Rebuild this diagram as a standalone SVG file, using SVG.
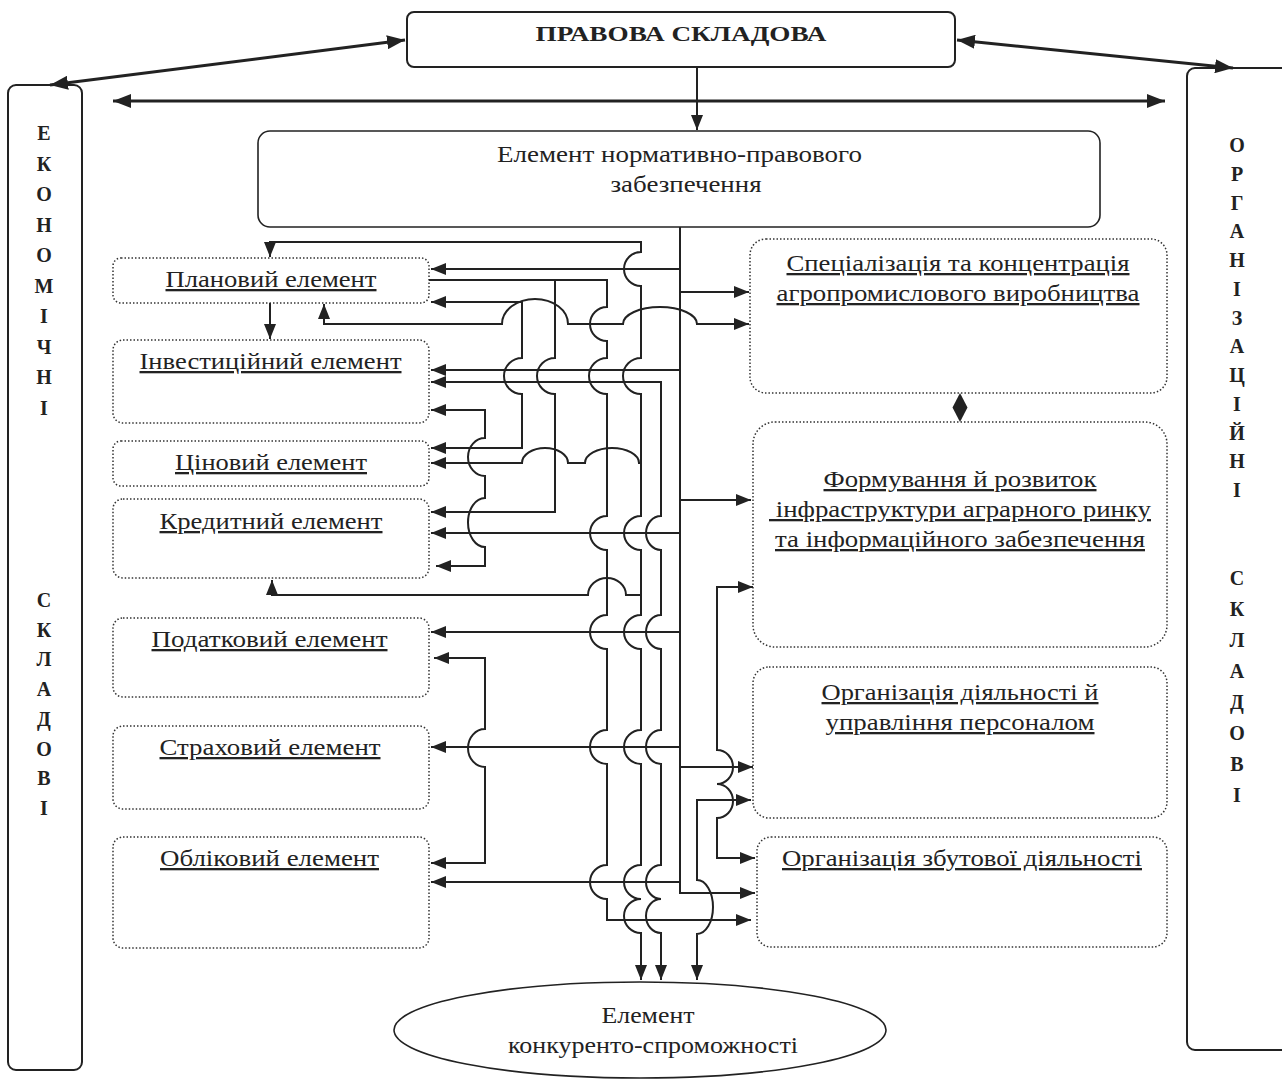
<svg xmlns="http://www.w3.org/2000/svg" width="1282" height="1080" viewBox="0 0 1282 1080">
<style>
.bg{fill:#fff}
.solid{fill:#fff;stroke:#222;stroke-width:2}
.dot{fill:#fff;stroke:#333;stroke-width:1.5;stroke-dasharray:1.5 2}
.t{font-family:"Liberation Serif","Times New Roman",serif;font-size:23px;fill:#222;text-anchor:middle}
.u{text-decoration:underline}
.b{font-family:"Liberation Serif","Times New Roman",serif;font-size:20px;font-weight:bold;fill:#222;text-anchor:middle}
.h{font-family:"Liberation Serif","Times New Roman",serif;font-size:22px;font-weight:bold;fill:#222;text-anchor:middle}
.c{fill:none;stroke:#222;stroke-width:2}
.ct{fill:none;stroke:#222;stroke-width:3}
.e{marker-end:url(#ah)}
.s{marker-start:url(#ah)}
.E{marker-end:url(#ahb)}
.S{marker-start:url(#ahb)}
</style>
<defs>
<marker id="ah" viewBox="0 0 15 12" refX="15" refY="6" markerWidth="15" markerHeight="12" markerUnits="userSpaceOnUse" orient="auto-start-reverse"><path d="M0 0 L15 6 L0 12 z" fill="#222"/></marker>
<marker id="ahb" viewBox="0 0 18 14" refX="18" refY="7" markerWidth="18" markerHeight="14" markerUnits="userSpaceOnUse" orient="auto-start-reverse"><path d="M0 0 L18 7 L0 14 z" fill="#222"/></marker>
</defs>
<rect class="bg" x="0" y="0" width="1282" height="1080"/>

<g id="pravova">
<rect class="solid" x="407" y="12" width="548" height="55" rx="7"/>
<text class="h" x="681" y="41" textLength="291" lengthAdjust="spacingAndGlyphs">ПРАВОВА СКЛАДОВА</text>
</g>

<g id="ekonomichni">
<rect class="solid" x="8" y="85" width="74" height="985" rx="8"/>
<text class="b" x="44" y="140">Е</text>
<text class="b" x="44" y="170.5">К</text>
<text class="b" x="44" y="201">О</text>
<text class="b" x="44" y="231.5">Н</text>
<text class="b" x="44" y="262">О</text>
<text class="b" x="44" y="292.5">М</text>
<text class="b" x="44" y="323">І</text>
<text class="b" x="44" y="353.5">Ч</text>
<text class="b" x="44" y="384">Н</text>
<text class="b" x="44" y="414.5">І</text>
<text class="b" x="44" y="607">С</text>
<text class="b" x="44" y="636.7">К</text>
<text class="b" x="44" y="666.4">Л</text>
<text class="b" x="44" y="696.1">А</text>
<text class="b" x="44" y="725.8">Д</text>
<text class="b" x="44" y="755.5">О</text>
<text class="b" x="44" y="785.2">В</text>
<text class="b" x="44" y="815">І</text>
</g>

<g id="orhanizatsiini">
<rect class="solid" x="1187" y="68" width="110" height="982" rx="8"/>
<text class="b" x="1237" y="152">О</text>
<text class="b" x="1237" y="180.75">Р</text>
<text class="b" x="1237" y="209.5">Г</text>
<text class="b" x="1237" y="238.25">А</text>
<text class="b" x="1237" y="267">Н</text>
<text class="b" x="1237" y="295.75">І</text>
<text class="b" x="1237" y="324.5">З</text>
<text class="b" x="1237" y="353.25">А</text>
<text class="b" x="1237" y="382">Ц</text>
<text class="b" x="1237" y="410.75">І</text>
<text class="b" x="1237" y="439.5">Й</text>
<text class="b" x="1237" y="468.25">Н</text>
<text class="b" x="1237" y="497">І</text>
<text class="b" x="1237" y="585">С</text>
<text class="b" x="1237" y="616">К</text>
<text class="b" x="1237" y="647">Л</text>
<text class="b" x="1237" y="678">А</text>
<text class="b" x="1237" y="709">Д</text>
<text class="b" x="1237" y="740">О</text>
<text class="b" x="1237" y="771">В</text>
<text class="b" x="1237" y="802">І</text>
</g>

<g id="normatyvno">
<rect class="solid" x="258" y="131" width="842" height="96" rx="12" style="stroke-width:1.6"/>
<text class="t" x="679.5" y="162" textLength="365" lengthAdjust="spacingAndGlyphs">Елемент нормативно-правового</text>
<text class="t" x="686" y="192" textLength="151" lengthAdjust="spacingAndGlyphs">забезпечення</text>
</g>

<g id="planovyi">
<rect class="dot" x="113" y="258" width="316" height="45" rx="8"/>
<text class="t u" x="271" y="287" textLength="211" lengthAdjust="spacingAndGlyphs">Плановий елемент</text>
</g>
<g id="investytsiinyi">
<rect class="dot" x="113" y="340" width="316" height="83" rx="10"/>
<text class="t u" x="270.5" y="369" textLength="262" lengthAdjust="spacingAndGlyphs">Інвестиційний елемент</text>
</g>
<g id="tsinovyi">
<rect class="dot" x="113" y="441" width="316" height="45" rx="8"/>
<text class="t u" x="271" y="470" textLength="192" lengthAdjust="spacingAndGlyphs">Ціновий елемент</text>
</g>
<g id="kredytnyi">
<rect class="dot" x="113" y="499" width="316" height="79" rx="10"/>
<text class="t u" x="271" y="529" textLength="223" lengthAdjust="spacingAndGlyphs">Кредитний елемент</text>
</g>
<g id="podatkovyi">
<rect class="dot" x="113" y="618" width="316" height="79" rx="10"/>
<text class="t u" x="269.5" y="647" textLength="236" lengthAdjust="spacingAndGlyphs">Податковий елемент</text>
</g>
<g id="strakhovyi">
<rect class="dot" x="113" y="726" width="316" height="83" rx="10"/>
<text class="t u" x="270" y="755" textLength="221" lengthAdjust="spacingAndGlyphs">Страховий елемент</text>
</g>
<g id="oblikovyi">
<rect class="dot" x="113" y="837" width="316" height="111" rx="10"/>
<text class="t u" x="269.5" y="866" textLength="219" lengthAdjust="spacingAndGlyphs">Обліковий елемент</text>
</g>

<g id="spetsializatsiia">
<rect class="dot" x="750" y="239" width="417" height="154" rx="16"/>
<text class="t u" x="958" y="271" textLength="343" lengthAdjust="spacingAndGlyphs">Спеціалізація та концентрація</text>
<text class="t u" x="958" y="301" textLength="363" lengthAdjust="spacingAndGlyphs">агропромислового виробництва</text>
</g>
<g id="diamond">
<path d="M960 393 L967.5 407.5 L960 422 L952.5 407.5 z" fill="#222"/>
</g>
<g id="formuvannia">
<rect class="dot" x="753" y="422" width="414" height="225" rx="22"/>
<text class="t u" x="960" y="487" textLength="273" lengthAdjust="spacingAndGlyphs">Формування й розвиток</text>
<text class="t u" x="960" y="517" textLength="382" lengthAdjust="spacingAndGlyphs" xml:space="preserve"> інфраструктури аграрного ринку</text>
<text class="t u" x="960" y="547" textLength="370" lengthAdjust="spacingAndGlyphs">та інформаційного забезпечення</text>
</g>
<g id="orh-diialnosti">
<rect class="dot" x="753" y="667" width="414" height="151" rx="16"/>
<text class="t u" x="960" y="700" textLength="277" lengthAdjust="spacingAndGlyphs">Організація діяльності й</text>
<text class="t u" x="960" y="730" textLength="269" lengthAdjust="spacingAndGlyphs">управління персоналом</text>
</g>
<g id="zbut">
<rect class="dot" x="757" y="837" width="410" height="110" rx="14"/>
<text class="t u" x="962" y="866" textLength="360" lengthAdjust="spacingAndGlyphs">Організація збутової діяльності</text>
</g>

<g id="konkurento">
<ellipse cx="640" cy="1030" rx="246" ry="48" fill="#fff" stroke="#222" stroke-width="1.6"/>
<text class="t" x="648" y="1023" textLength="93" lengthAdjust="spacingAndGlyphs">Елемент</text>
<text class="t" x="653" y="1053" textLength="290" lengthAdjust="spacingAndGlyphs">конкуренто-спроможності</text>
</g>

<g id="connectors">
<path class="ct S E" d="M405 40 L50 85"/>
<path class="ct S E" d="M957 40 L1233 68"/>
<path class="ct S E" d="M113 101 H1165"/>
<path class="c e" d="M697 67 V130"/>

<path class="c e" d="M680 227 V893 H755"/>
<path class="c e" d="M680 269 H431"/>
<path class="c e" d="M680 292 H749"/>
<path class="c e" d="M681 370 H431"/>
<path class="c e" d="M681 500 H751"/>
<path class="c e" d="M681 533 H431"/>
<path class="c e" d="M681 632 H431"/>
<path class="c e" d="M681 747 H431"/>
<path class="c e" d="M681 767 H753"/>
<path class="c e" d="M681 882 H431"/>

<path class="c e" d="M270 303 V339"/>
<path class="c s e" d="M270 257 V242 H641 V252 A17 17 0 0 0 641 286 V358 A18 18 0 0 0 641 394 V516 A17 17 0 0 0 641 550 V615 A17 17 0 0 0 641 649 V730 A17 17 0 0 0 641 764 V865 A17 17 0 0 0 641 899 A17 17 0 0 0 641 933 V980"/>
<path class="c s e" d="M431 382 H661 V516 A15 17 0 0 0 661 550 V615 A15 17 0 0 0 661 649 V730 A15 17 0 0 0 661 764 V865 A15 17 0 0 0 661 899 A15 17 0 0 0 661 933 V980"/>
<path class="c e" d="M429 280 H607 V307 A17 17 0 0 0 607 341 V358 A18 18 0 0 0 607 394 V516 A17 17 0 0 0 607 550 V615 A17 17 0 0 0 607 649 V730 A17 17 0 0 0 607 764 V865 A17 17 0 0 0 607 899 V920 H751"/>
<path class="c e" d="M555 280 V358 A18 18 0 0 0 555 394 V512 H431"/>
<path class="c s e" d="M431 302 H522 V358 A18 18 0 0 0 522 394 V448 H431"/>
<path class="c s e" d="M431 410 H485 V438 A17 19 0 0 0 485 476 V498 A17 24.5 0 0 0 485 547 V566 H436"/>
<path class="c s e" d="M434 658 H485 V729 A17 19 0 0 0 485 767 V863 H431"/>
<path class="c s e" d="M753 587 H717 V750 A16 17 0 0 1 717 784 A16 17 0 0 1 717 818 V858 H755"/>
<path class="c s e" d="M751 800 H697 V880 A16 27 0 0 1 697 934 V980"/>
<path class="c s e" d="M324 304 V324 H502 A33 25 0 0 1 568 324 H623 A37 17 0 0 1 697 324 H749"/>
<path class="c s" d="M431 463 H522 A23 15 0 0 1 568 463 H585 A27 15 0 0 1 639 463 H641"/>
<path class="c s" d="M272 580 V595 H588 A19 17 0 0 1 626 595 H641"/>
</g>
</svg>
